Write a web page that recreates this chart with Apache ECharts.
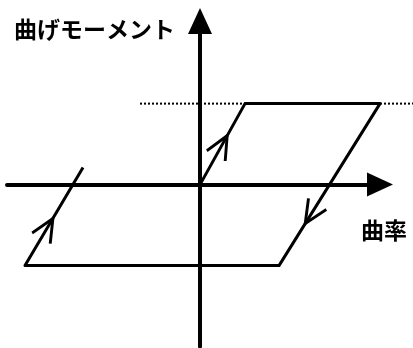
<!DOCTYPE html>
<html>
<head>
<meta charset="utf-8">
<script src="https://cdn.jsdelivr.net/npm/echarts@6/dist/echarts.min.js"></script>
<style>
  html, body { margin: 0; padding: 0; background: #fff; }
  #chart { width: 413px; height: 348px; }
</style>
</head>
<body>
<div id="chart"></div>
<script>
// 履歴ループ (曲率 - 曲げモーメント)
const loopX = [0, 0.9, 3.6, 1.58, -3.5, -2.34];
const loopY = [0, 1, 1, -1, -1, 0.21];
// 降伏モーメントの点線
const yieldX = [-1.2, 4.26];
const yieldY = [1, 1];
// 矢印: 線分の番号と位置(割合)
const arrowSeg = [0, 2, 4];
const arrowPos = [0.48, 0.68, 0.38];

const yLabel = '曲げモーメント';
const xLabel = '曲率';

const chart = echarts.init(document.getElementById('chart'));

const axisCommon = {
  type: 'value',
  axisLabel: { show: false },
  axisTick: { show: false },
  splitLine: { show: false },
  axisLine: {
    onZero: true,
    symbol: ['none', 'triangle'],
    symbolSize: [24, 26],
    lineStyle: { color: '#000', width: 4 }
  }
};
const hiddenAxis = {
  type: 'value', show: false,
  axisLine: { show: false }, splitLine: { show: false }
};

const zip = (xs, ys) => xs.map((x, i) => [x, ys[i]]);

chart.setOption({
  animation: false,
  grid: [
    { left: 7, top: 21, width: 373, height: 325.6 },
    // 点線用 (図の右端まで)
    { left: 0, top: 21, width: 413, height: 325.6 }
  ],
  xAxis: [
    Object.assign({}, axisCommon, { min: -3.86, max: 3.6, gridIndex: 0 }),
    Object.assign({}, hiddenAxis, { min: -4, max: 4.26, gridIndex: 1 })
  ],
  yAxis: [
    Object.assign({}, axisCommon, { min: -2, max: 2.02, gridIndex: 0 }),
    Object.assign({}, hiddenAxis, { min: -2, max: 2.02, gridIndex: 1 })
  ],
  graphic: [
    {
      type: 'text', left: 14, top: 18,
      style: { text: yLabel, font: 'bold 23px "Noto Sans CJK JP"', fill: '#000' }
    },
    {
      type: 'text', left: 361, top: 219,
      style: { text: xLabel, font: 'bold 23px "Noto Sans CJK JP"', fill: '#000' }
    }
  ],
  series: [
    {
      type: 'line', z: 1, xAxisIndex: 1, yAxisIndex: 1, symbol: 'none',
      data: zip(yieldX, yieldY),
      lineStyle: { color: '#000', width: 2, type: [2, 2] }
    },
    {
      type: 'line', z: 3, clip: false, symbol: 'none',
      data: zip(loopX, loopY),
      lineStyle: { color: '#000', width: 3, join: 'round' }
    }
  ]
});

// 矢印の位置と向きを線分から求める
const arrows = arrowSeg.map((s, i) => {
  const t = arrowPos[i];
  const x = loopX[s] + (loopX[s + 1] - loopX[s]) * t;
  const y = loopY[s] + (loopY[s + 1] - loopY[s]) * t;
  const p0 = chart.convertToPixel({ gridIndex: 0 }, [loopX[s], loopY[s]]);
  const p1 = chart.convertToPixel({ gridIndex: 0 }, [loopX[s + 1], loopY[s + 1]]);
  const ang = Math.atan2(-(p1[1] - p0[1]), p1[0] - p0[0]) * 180 / Math.PI;
  return { value: [x, y], symbolRotate: ang - 90 };
});

chart.setOption({
  series: [
    {}, {},
    {
      type: 'scatter', z: 4, clip: false,
      symbol: 'path://M0,20 L9,0 L18,20',
      symbolSize: [21, 23],
      itemStyle: { color: 'rgba(0,0,0,0)', borderColor: '#000', borderWidth: 3, opacity: 1 },
      data: arrows
    }
  ]
});
</script>
</body>
</html>
